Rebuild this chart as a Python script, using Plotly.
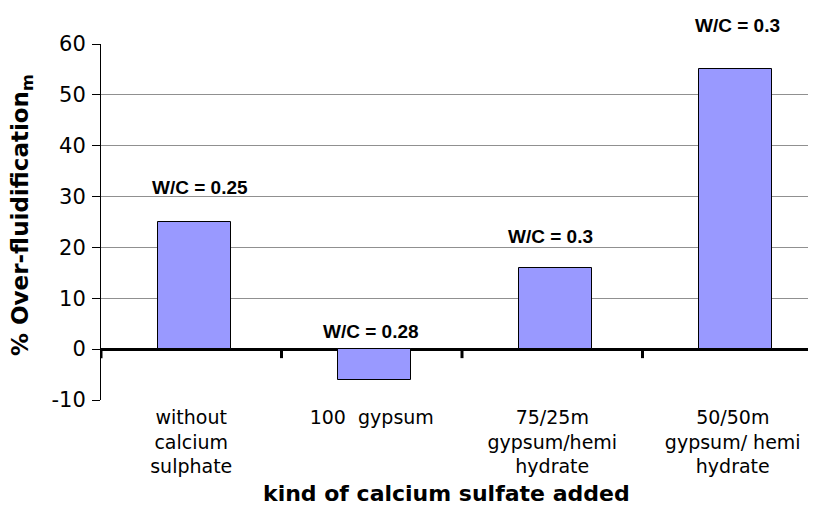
import plotly.graph_objects as go

categories = ["without calcium sulphate", "100 gypsum", "75/25m gypsum/hemi hydrate", "50/50m gypsum/ hemi hydrate"]
tick_labels = ["without<br>calcium<br>sulphate", "100  gypsum", "75/25m<br>gypsum/hemi<br>hydrate", "50/50m<br>gypsum/ hemi<br>hydrate"]
values = [25, -6, 16, 55]
wc_labels = ["W/C = 0.25", "W/C = 0.28", "W/C = 0.3", "W/C = 0.3"]
y_ticks = [-10, 0, 10, 20, 30, 40, 50, 60]
y_tick_text = ["-10", "0", "10", "20", "30", "40", "50", "60"]

# label pixel offsets (style)
label_yshift = [35, 18, 31, 44]
label_xshift = [9, -1, -2, 5]

# the page body adds an 8px offset; figure coordinates compensate for it
OFF = 8
W, H = 816, 508
L, R, T, B = 101 - OFF, 0, 44 - OFF, H - (400 - OFF)
PX_PER_CAT = 180.5
BAR_W = 0.405

fig = go.Figure()
fig.add_trace(go.Bar(
    x=list(range(len(categories))), y=values,
    width=BAR_W, offset=-BAR_W / 2 + 3 / PX_PER_CAT,
    marker=dict(color="#9999FF", line=dict(color="black", width=1)),
    hoverinfo="skip", showlegend=False,
))

ann = []
for i, (v, t) in enumerate(zip(values, wc_labels)):
    ann.append(dict(x=i, y=max(v, 0), xref="x", yref="y", text="<b>" + t + "</b>",
                    showarrow=False, yanchor="middle", xanchor="center",
                    yshift=label_yshift[i], xshift=label_xshift[i],
                    font=dict(family="Liberation Sans, Arial", size=19, color="black")))

plot_w = W - L - R
plot_h = H - T - B
ann.append(dict(x=(446 - OFF - L) / plot_w, y=-(493 - 400) / plot_h, xref="paper", yref="paper",
                text="<b>kind of calcium sulfate added</b>", showarrow=False,
                xanchor="center", yanchor="middle",
                font=dict(family="DejaVu Sans, Liberation Sans, Arial", size=22, color="black")))
ann.append(dict(x=(22 - 101) / plot_w, y=(400 - 215) / plot_h, xref="paper", yref="paper",
                text="<b>% Over-fluidification<sub>m</sub></b>", showarrow=False, textangle=-90,
                xanchor="center", yanchor="middle",
                font=dict(family="DejaVu Sans, Liberation Sans, Arial", size=23, color="black")))

shapes = []
for i in range(len(categories) + 1):
    shapes.append(dict(type="line", xref="x", yref="y", x0=i - 0.5, x1=i - 0.5,
                       ysizemode="pixel", yanchor=0, y0=0, y1=-9,
                       line=dict(color="black", width=3)))

fig.update_layout(
    width=W, height=H,
    margin=dict(l=L, r=R, t=T, b=B, pad=0, autoexpand=False),
    paper_bgcolor="white", plot_bgcolor="white",
    font=dict(family="DejaVu Sans, Liberation Sans, Arial", size=19, color="black"),
    xaxis=dict(range=[-0.5, -0.5 + plot_w / PX_PER_CAT], tickmode="array",
               tickvals=list(range(len(categories))), ticktext=tick_labels,
               ticks="", showgrid=False, zeroline=False, showline=False,
               automargin=False, ticklabelstandoff=4, tickfont=dict(size=19)),
    yaxis=dict(range=[-10, 60], tickmode="array", tickvals=y_ticks, ticktext=y_tick_text,
               ticks="outside", ticklen=8, tickcolor="black", tickwidth=1,
               showline=True, linecolor="black", linewidth=1,
               showgrid=True, gridcolor="#909090", gridwidth=1,
               zeroline=True, zerolinecolor="black", zerolinewidth=3,
               automargin=False, ticklabelstandoff=2, tickfont=dict(size=21)),
    annotations=ann, shapes=shapes, bargap=0,
)

fig.write_html("out.html")
